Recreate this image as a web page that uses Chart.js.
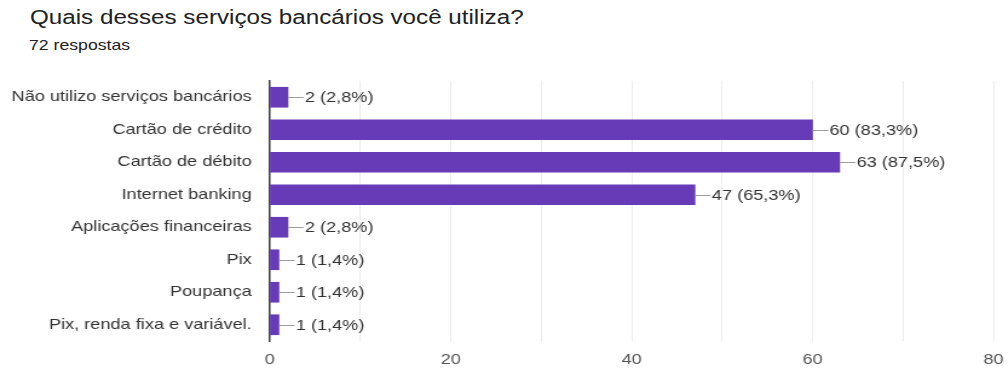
<!DOCTYPE html>
<html>
<head>
<meta charset="utf-8">
<script src="https://cdn.jsdelivr.net/npm/chart.js@4"></script>
<style>
  body { margin: 0; background: #fff; font-family: "Liberation Sans", Arial, sans-serif; }
  #wrap { position: relative; width: 1008px; height: 369px; overflow: hidden; }
  .esticado { position: absolute; transform: scaleX(1.21); transform-origin: 0 0; }
  #titulo { left: 30px; top: 6px; font-size: 20px; color: #202124; white-space: nowrap; }
  #respostas { left: 29px; top: 37px; font-size: 14.6px; color: #202124; white-space: nowrap; }
  #caixa { left: 0; top: 0; width: 833px; height: 369px; }
</style>
</head>
<body>
<div id="wrap">
  <div id="titulo" class="esticado">Quais desses serviços bancários você utiliza?</div>
  <div id="respostas" class="esticado">72 respostas</div>
  <div id="caixa" class="esticado"><canvas id="grafico" width="833" height="369"></canvas></div>
</div>
<script>
// respostas por serviço
const servicos = [
  'Não utilizo serviços bancários',
  'Cartão de crédito',
  'Cartão de débito',
  'Internet banking',
  'Aplicações financeiras',
  'Pix',
  'Poupança',
  'Pix, renda fixa e variável.'
];
const respostas = [2, 60, 63, 47, 2, 1, 1, 1];
const totalRespostas = 72;
const eixoX = [0, 20, 40, 60, 80];

const fonte = '"Liberation Sans", Arial, sans-serif';

// rótulo "— n (x,x%)" no fim de cada barra
const rotulos = {
  id: 'rotulos',
  afterDatasetsDraw(chart) {
    const c = chart.ctx;
    const meta = chart.getDatasetMeta(0);
    c.save();
    c.font = '15px ' + fonte;
    c.textBaseline = 'middle';
    meta.data.forEach((bar, i) => {
      const v = respostas[i];
      const pct = (v / totalRespostas * 100).toFixed(1).replace('.', ',');
      c.strokeStyle = '#9e9e9e';
      c.lineWidth = 1;
      c.beginPath();
      c.moveTo(bar.x, Math.round(bar.y) + 0.5);
      c.lineTo(bar.x + 13, Math.round(bar.y) + 0.5);
      c.stroke();
      c.fillStyle = '#333';
      c.fillText(`${v} (${pct}%)`, bar.x + 14, bar.y + 1);
    });
    c.restore();
  }
};

new Chart(document.getElementById('grafico'), {
  type: 'bar',
  data: {
    labels: servicos,
    datasets: [{
      data: respostas,
      backgroundColor: '#673ab7',
      borderWidth: 0,
      barThickness: 20
    }]
  },
  options: {
    indexAxis: 'y',
    responsive: false,
    animation: false,
    layout: { padding: { top: 81, right: 12, left: 0, bottom: 0 } },
    plugins: { legend: { display: false }, tooltip: { enabled: false } },
    scales: {
      x: {
        min: eixoX[0],
        max: eixoX[eixoX.length - 1],
        ticks: {
          stepSize: 10,
          autoSkip: false,
          maxRotation: 0,
          callback: (v) => eixoX.includes(v) ? v : '',
          color: '#555',
          font: { size: 15, family: fonte },
          padding: 10
        },
        grid: { color: '#ececec', drawTicks: false },
        border: { display: false },
        afterFit: (s) => { s.height = 28; s.paddingLeft = 0; s.paddingRight = 0; }
      },
      y: {
        ticks: {
          color: '#333',
          font: { size: 15, family: fonte },
          padding: 15
        },
        grid: { display: false, drawTicks: false },
        border: { color: '#444', width: 1.5 },
        afterFit: (s) => { s.width = 223; }
      }
    }
  },
  plugins: [rotulos]
});
</script>
</body>
</html>
